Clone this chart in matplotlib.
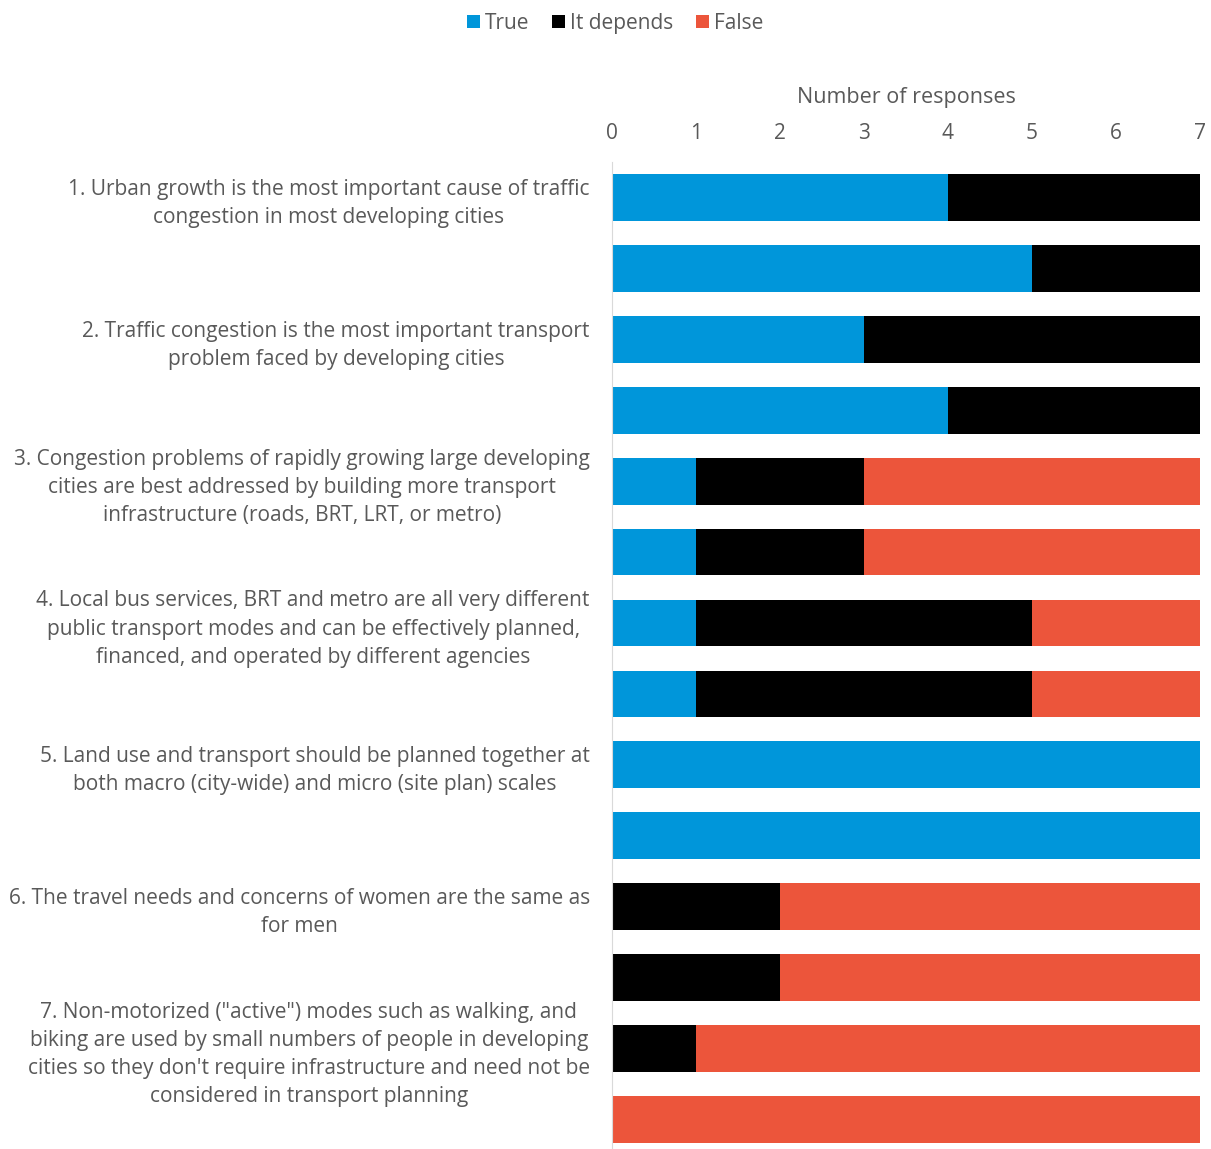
import numpy as np
import matplotlib
matplotlib.use("Agg")
from matplotlib import pyplot as plt

plt.rcParams['font.family'] = ['Open Sans', 'DejaVu Sans']

# statements, one label for each pair of bars
labels = [
    "1. Urban growth is the most important cause of traffic\ncongestion in most developing cities", "",
    "2. Traffic congestion is the most important transport\nproblem faced by developing cities", "",
    "3. Congestion problems of rapidly growing large developing\ncities are best addressed by building more transport\ninfrastructure (roads, BRT, LRT, or metro)", "",
    "4. Local bus services, BRT and metro are all very different\npublic transport modes and can be effectively planned,\nfinanced, and operated by different agencies", "",
    "5. Land use and transport should be planned together at\nboth macro (city-wide) and micro (site plan) scales", "",
    "6. The travel needs and concerns of women are the same as\nfor men", "",
    "7. Non-motorized (\"active\") modes such as walking, and\nbiking are used by small numbers of people in developing\ncities so they don't require infrastructure and need not be\nconsidered in transport planning", "",
]
true_vals    = [4, 5, 3, 4, 1, 1, 1, 1, 7, 7, 0, 0, 0, 0]
depends_vals = [3, 2, 4, 3, 2, 2, 4, 4, 0, 0, 2, 2, 1, 0]
false_vals   = [0, 0, 0, 0, 4, 4, 2, 2, 0, 0, 5, 5, 6, 7]

c_true = '#0096DA'
c_dep = '#000000'
c_false = '#EC553B'
txt = '#595959'

fig = plt.figure(figsize=(12.11, 11.49), dpi=100)
ax = fig.add_axes([612/1211, 0.0, 588/1211, 1 - 162/1149])

y = np.arange(len(labels))
t = np.array(true_vals)
d = np.array(depends_vals)
f = np.array(false_vals)
h = 0.66
ax.barh(y, t, height=h, color=c_true, label='True')
ax.barh(y, d, left=t, height=h, color=c_dep, label='It depends')
ax.barh(y, f, left=t + d, height=h, color=c_false, label='False')

ax.set_xlim(0, 7)
ax.set_ylim(13.416, -0.5)
ax.xaxis.tick_top()
ax.xaxis.set_label_position('top')
ax.set_xticks(range(8))
ax.set_xlabel('Number of responses', fontsize=15.5, color=txt, labelpad=14)
ax.set_yticks(y)
ax.set_yticklabels(labels, fontsize=15, color=txt, ha='right',
                   multialignment='center', linespacing=1.44)
ax.tick_params(axis='x', length=0, labelsize=15, labelcolor=txt, pad=13)
ax.tick_params(axis='y', length=0, pad=16)
for lbl in ax.get_yticklabels():
    lbl.set_y(lbl.get_position()[1])
ax.yaxis.set_tick_params(which='major')
for s in ['top', 'right', 'bottom']:
    ax.spines[s].set_visible(False)
ax.spines['left'].set_color('#D9D9D9')

fig.legend(loc='upper center', bbox_to_anchor=(0.508, 1.005), ncol=3, frameon=False,
           fontsize=15, labelcolor=txt, handlelength=0.6, handleheight=0.6,
           handletextpad=0.25, columnspacing=1.1)

fig.savefig('out.png', dpi=100)
